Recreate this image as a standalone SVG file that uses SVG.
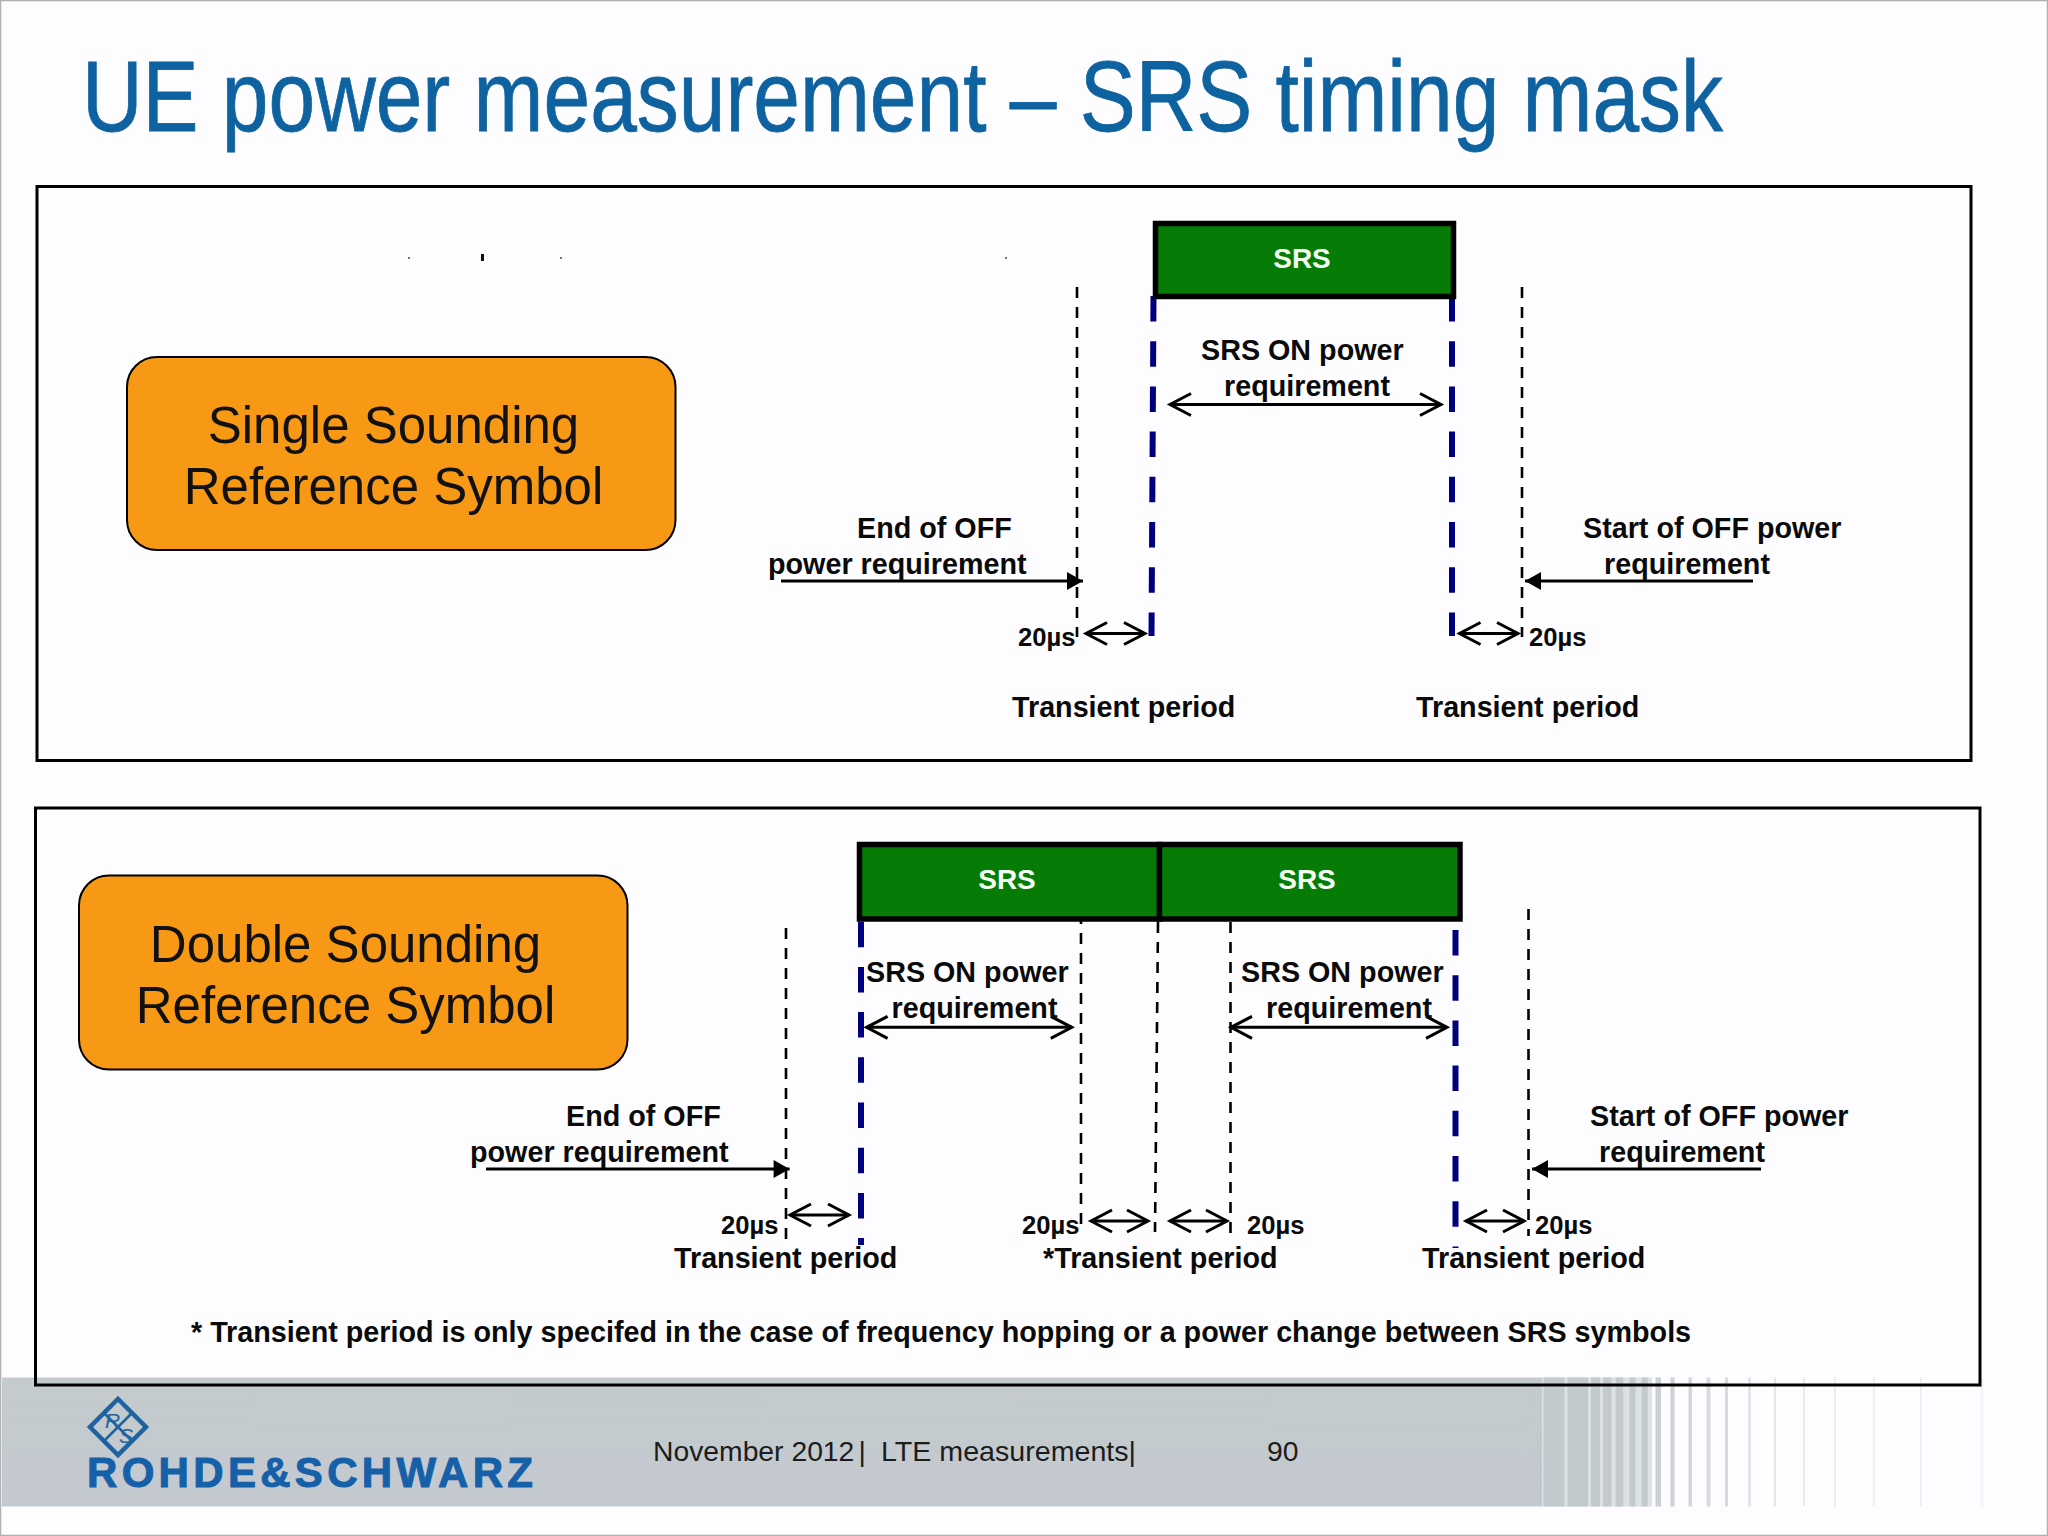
<svg xmlns="http://www.w3.org/2000/svg" width="2048" height="1536" viewBox="0 0 2048 1536">
<style>
text{font-family:"Liberation Sans",Arial,sans-serif}
.b{font-weight:bold;font-size:28.72px;fill:#0a0a0a}
.u{font-weight:bold;font-size:25.6px;fill:#0a0a0a}
.s{font-weight:bold;font-size:28px;fill:#f2fff2;text-anchor:middle}
.l{font-size:51px;fill:#111;text-anchor:middle}
.f{font-size:28.3px;fill:#1c1c1c}
.frame{fill:none;stroke:#000;stroke-width:3}
.srs{fill:#067c06;stroke:#000;stroke-width:5.5}
.lab{fill:#f79914;stroke:#000;stroke-width:2}
.blue{stroke:#00007f;stroke-width:6;stroke-dasharray:25.5 19.7;fill:none}
.thin{stroke:#000;stroke-width:2.6;stroke-dasharray:11 9;fill:none}
.open{stroke:#000;stroke-width:3;fill:none;marker-start:url(#oa);marker-end:url(#oa)}
.solid{stroke:#000;stroke-width:3;fill:none;marker-end:url(#sa)}
.st{fill:#c3cace}
</style>
<defs>
<linearGradient id="band" x1="0" y1="0" x2="0" y2="1"><stop offset="0" stop-color="#c4cbcc"/><stop offset="1" stop-color="#c3c9d0"/></linearGradient>
<marker id="oa" markerUnits="userSpaceOnUse" orient="auto-start-reverse" markerWidth="30" markerHeight="30" refX="24" refY="13" viewBox="0 0 30 30"><path d="M3 2 L24 13 L3 24" fill="none" stroke="#000" stroke-width="3"/></marker>
<marker id="sa" markerUnits="userSpaceOnUse" orient="auto" markerWidth="20" markerHeight="20" refX="17" refY="10" viewBox="0 0 20 20"><path d="M1 1 L17 10 L1 19 Z" fill="#000"/></marker>
</defs>
<rect width="2048" height="1536" fill="#fdfdff"/>
<rect x="0.5" y="0.5" width="2047" height="1535" fill="none" stroke="#b0b0b0" stroke-width="1.5"/>
<g id="footer">
<rect x="2" y="1377.5" width="1540" height="129" fill="url(#band)"/>
<rect x="1542" y="1377.5" width="110" height="129" fill="#c3cace" opacity=".55"/>
<g>
<rect class="st" x="1543.500" y="1377.5" width="21" height="129"/>
<rect class="st" x="1567.500" y="1377.5" width="20.500" height="129"/>
<rect class="st" x="1591" y="1377.5" width="9" height="129"/>
<rect class="st" x="1603" y="1377.5" width="8.500" height="129"/>
<rect class="st" x="1615.700" y="1377.5" width="7.500" height="129"/>
<rect class="st" x="1629.500" y="1377.5" width="6" height="129"/>
<rect class="st" x="1641.700" y="1377.5" width="6" height="129"/>
<rect class="st" x="1655.500" y="1377.5" width="5.500" height="129" opacity=".9"/>
<rect class="st" x="1670.500" y="1377.5" width="4" height="129" opacity=".85"/>
<rect class="st" x="1688.500" y="1377.5" width="3.500" height="129" opacity=".75"/>
<rect class="st" x="1706.500" y="1377.5" width="4" height="129" opacity=".7"/>
<rect class="st" x="1725" y="1377.5" width="3" height="129" opacity=".65"/>
<rect class="st" x="1748.300" y="1377.5" width="2.500" height="129" opacity=".55"/>
<rect class="st" x="1774" y="1377.5" width="2" height="129" opacity=".45"/>
<rect class="st" x="1803" y="1377.5" width="1.700" height="129" opacity=".4"/>
<rect class="st" x="1834" y="1377.5" width="1.700" height="129" opacity=".35"/>
<rect class="st" x="1873" y="1377.5" width="1.700" height="129" opacity=".3"/>
<rect class="st" x="1920" y="1377.5" width="1.700" height="129" opacity=".3"/>
<rect class="st" x="1980.500" y="1377.5" width="3" height="129" opacity=".15"/>
</g>
<text class="f" x="653" y="1461">November 2012</text>
<text class="f" x="858.500" y="1461">|</text>
<text class="f" x="881" y="1461" textLength="255" lengthAdjust="spacingAndGlyphs">LTE measurements|</text>
<text class="f" x="1267" y="1461">90</text>
</g>
<g id="logo">
<path d="M118 1399 L146 1427 L118 1455 L90 1427 Z" fill="none" stroke="#1f62a0" stroke-width="4.500"/>
<path d="M104 1413 L132 1441 M132 1413 L104 1441" fill="none" stroke="#1f62a0" stroke-width="2.500"/>
<text x="105" y="1428" font-size="21" font-style="italic" fill="#1f62a0">R</text>
<text x="119" y="1443" font-size="21" font-style="italic" fill="#1f62a0">S</text>
<text x="87" y="1486.500" font-size="42" font-weight="bold" fill="#1560a8" stroke="#1560a8" stroke-width="1" textLength="446" lengthAdjust="spacing">ROHDE&amp;SCHWARZ</text>
</g>
<text id="title" x="82" y="130.500" font-size="100" fill="#0f62a0" stroke="#0f62a0" stroke-width=".8" textLength="1641" lengthAdjust="spacingAndGlyphs">UE power measurement – SRS timing mask</text>
<rect id="frame1" class="frame" x="37" y="186.500" width="1934" height="574"/>
<rect id="frame2" class="frame" x="35.500" y="808" width="1944.500" height="577"/>
<g fill="#777"><rect x="408" y="257" width="2" height="2"/><rect x="481" y="254" width="3" height="7" fill="#111"/><rect x="560" y="257" width="2" height="2"/><rect x="1005" y="257" width="2" height="2"/></g>
<g id="connectors">
<path class="blue" d="M1153.500 296 L1151.500 636"/>
<path class="blue" d="M1452 296 V636"/>
<path class="thin" d="M1077 287 V637"/>
<path class="thin" d="M1522 287 V637"/>
<path class="open" d="M1170 404.500 H1441"/>
<path class="open" d="M1086 633.500 H1145"/>
<path class="open" d="M1459.500 633.500 H1518"/>
<path class="solid" d="M781 581 H1083"/>
<path class="solid" d="M1753 581 H1525"/>
<path class="blue" d="M861 921.700 V1245"/>
<path class="blue" d="M1455.500 930 V1248"/>
<path class="thin" d="M786 928 V1242"/>
<path class="thin" d="M1081 913 V1233"/>
<path class="thin" d="M1158 922 L1155 1232"/>
<path class="thin" d="M1230.500 922 V1233"/>
<path class="thin" d="M1528.500 909 V1236"/>
<path class="open" d="M866.600 1027.300 H1071.800"/>
<path class="open" d="M1231 1027.300 H1447"/>
<path class="open" d="M790 1215 H849"/>
<path class="open" d="M1091 1221 H1148"/>
<path class="open" d="M1170 1221 H1227"/>
<path class="open" d="M1466 1221 H1524"/>
<path class="solid" d="M486 1169 H789.600"/>
<path class="solid" d="M1761 1169 H1532"/>
</g>
<g id="srs-single"><rect class="srs" x="1155.500" y="223.500" width="298" height="73"/><text class="s" x="1302" y="268">SRS</text></g>
<g id="srs-double-1"><rect class="srs" x="859.500" y="844.500" width="300" height="74.500"/><text class="s" x="1007" y="889">SRS</text></g>
<g id="srs-double-2"><rect class="srs" x="1159.500" y="844.500" width="300.500" height="74.500"/><text class="s" x="1307" y="889">SRS</text></g>
<g id="label-single"><rect class="lab" x="127" y="357" width="548.500" height="193" rx="30"/><text class="l" x="393.500" y="443">Single Sounding</text><text class="l" x="393.500" y="504">Reference Symbol</text></g>
<g id="label-double"><rect class="lab" x="79" y="875.500" width="548.500" height="194" rx="30"/><text class="l" x="345.500" y="961.500">Double Sounding</text><text class="l" x="345.500" y="1023">Reference Symbol</text></g>
<g id="labels-single">
<text class="b" x="1201" y="360">SRS ON power</text>
<text class="b" x="1224" y="396">requirement</text>
<text class="b" x="857" y="538">End of OFF</text>
<text class="b" x="768" y="574">power requirement</text>
<text class="b" x="1583" y="538">Start of OFF power</text>
<text class="b" x="1604" y="574">requirement</text>
<text class="u" x="1018" y="646">20µs</text>
<text class="u" x="1529" y="646">20µs</text>
<text class="b" x="1012" y="717">Transient period</text>
<text class="b" x="1416" y="717">Transient period</text>
</g>
<g id="labels-double">
<text class="b" x="866" y="982">SRS ON power</text>
<text class="b" x="891.500" y="1018">requirement</text>
<text class="b" x="1241" y="982">SRS ON power</text>
<text class="b" x="1266" y="1018">requirement</text>
<text class="b" x="566" y="1126">End of OFF</text>
<text class="b" x="470" y="1162">power requirement</text>
<text class="b" x="1590" y="1126">Start of OFF power</text>
<text class="b" x="1599" y="1162">requirement</text>
<text class="u" x="721" y="1234">20µs</text>
<text class="u" x="1022" y="1234">20µs</text>
<text class="u" x="1247" y="1234">20µs</text>
<text class="u" x="1535" y="1234">20µs</text>
<text class="b" x="674" y="1268">Transient period</text>
<text class="b" x="1043" y="1268">*Transient period</text>
<text class="b" x="1422" y="1268">Transient period</text>
<text class="b" x="191" y="1342">* Transient period is only specifed in the case of frequency hopping or a power change between SRS symbols</text>
</g>
</svg>
